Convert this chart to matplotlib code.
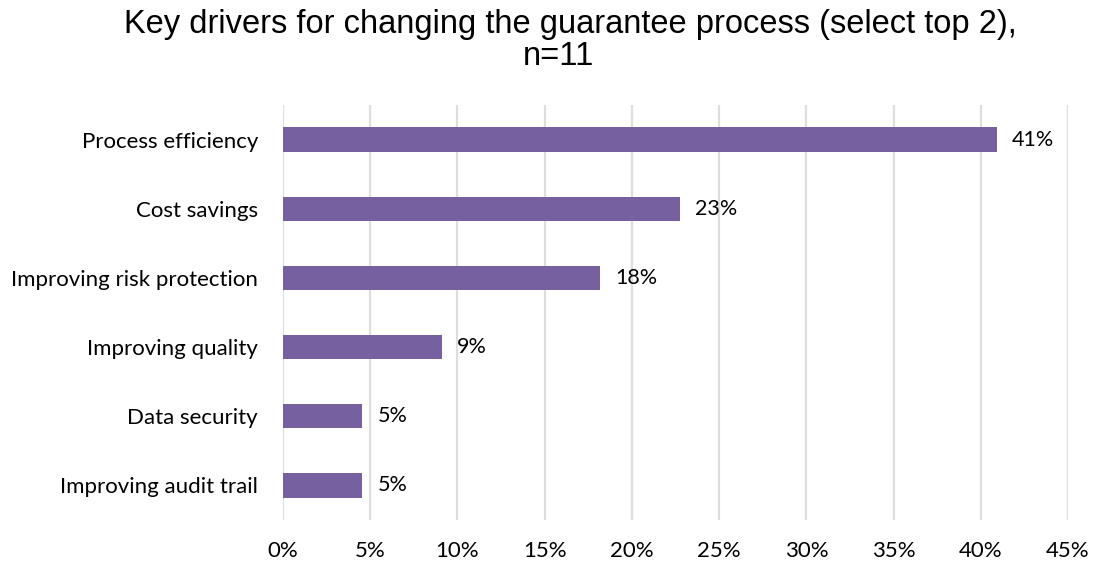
import matplotlib
matplotlib.use("Agg")
import matplotlib.pyplot as plt
from matplotlib.ticker import MultipleLocator, FuncFormatter

# Survey responses, share of selections (n=11, two picks each)
drivers = [
    "Process efficiency",
    "Cost savings",
    "Improving risk protection",
    "Improving quality",
    "Data security",
    "Improving audit trail",
]
shares = [40.91, 22.73, 18.18, 9.09, 4.55, 4.55]

TITLE_LINES = ["Key drivers for changing the guarantee process (select top 2),", "n=11"]
BAR_COLOR = "#76609f"
LABEL_FONT = ["Lato", "DejaVu Sans"]
TITLE_FONT = ["Liberation Sans", "DejaVu Sans"]


def main():
    fig = plt.figure(figsize=(11.01, 5.67), dpi=100)
    ax = fig.add_axes([283 / 1101, 1 - 520 / 567, (1068 - 283) / 1101, (520 - 105) / 567])

    ypos = list(range(len(drivers)))
    ax.barh(ypos, shares, height=0.35, color=BAR_COLOR, zorder=3)
    for y, v in zip(ypos, shares):
        ax.annotate(f"{round(v)}%", xy=(v, y), xytext=(11, 0),
                    textcoords="offset points", va="center", ha="left",
                    fontsize=15.5, family=LABEL_FONT, color="#000000")

    ax.set_xlim(0, 45)
    ax.set_ylim(len(drivers) - 0.5, -0.5)
    ax.xaxis.set_major_locator(MultipleLocator(5))
    ax.xaxis.set_major_formatter(FuncFormatter(lambda x, _: f"{x:.0f}%"))
    ax.set_yticks(ypos)
    ax.set_yticklabels(drivers)
    ax.tick_params(length=0, labelsize=16, colors="#000000")
    ax.tick_params(axis="y", pad=18)
    ax.tick_params(axis="x", pad=15)
    for lbl in ax.get_xticklabels() + ax.get_yticklabels():
        lbl.set_family(LABEL_FONT)

    ax.grid(axis="x", color="#dedede", linewidth=1.6, zorder=0)
    for s in ax.spines.values():
        s.set_visible(False)

    # two-line title, each line centred on its own
    fig.text(0.518, 1 - 33 / 567, TITLE_LINES[0], ha="center", va="baseline",
             fontsize=23.5, family=TITLE_FONT)
    fig.text(0.507, 1 - 65 / 567, TITLE_LINES[1], ha="center", va="baseline",
             fontsize=23.5, family=TITLE_FONT)

    fig.savefig("out.png", dpi=100)


if __name__ == "__main__":
    main()
